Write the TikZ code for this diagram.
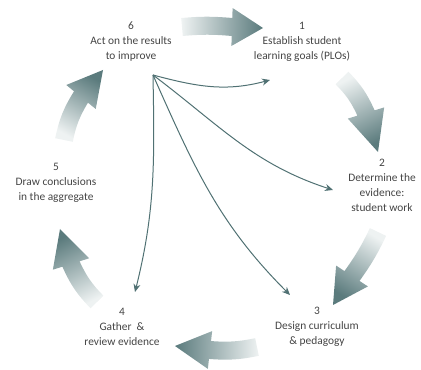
\documentclass[tikz,border=0pt]{standalone}
\usepackage{fontspec}
\setmainfont{Carlito}
\usetikzlibrary{calc,arrows.meta}

% curved block arrow: tail, head base, tip, bend, shading angle
\newcommand{\bigarrow}[5]{%
  \pgfmathsetmacro\tailL{90+#4}%
  \pgfmathsetmacro\tailR{-90+#4}%
  \shade[top color=cyc_dark, bottom color=cyc_light, shading angle=#5]
    ($(#1)!9pt!\tailL:(#2)$) to[bend left=#4] ($(#2)!9pt!90:(#3)$)
    -- ($(#2)!19pt!90:(#3)$) -- (#3) -- ($(#2)!19pt!-90:(#3)$)
    -- ($(#2)!9pt!-90:(#3)$) to[bend right=#4] ($(#1)!9pt!\tailR:(#2)$) -- cycle;
}

\begin{document}
\begin{tikzpicture}[x=1pt,y=1pt,
    stage/.style={align=center, text=stage_text, inner sep=1pt,
        font=\fontsize{11.4}{15}\selectfont},
    link/.style={draw=cyc_line, line width=1pt,
        -{Stealth[length=8pt,width=7pt]}}]
    \definecolor{cyc_dark}{HTML}{5b7b7d}
    \definecolor{cyc_light}{HTML}{eef2f2}
    \definecolor{cyc_line}{HTML}{507173}
    \definecolor{stage_text}{HTML}{444444}
    %\draw[help lines] (0,0) grid[step=10] (421,370);
    \useasboundingbox (0,0) rectangle (421,370);

    \node[stage] (s6) at (131,328) {6\\Act on the results\\to improve};
    \node[stage] (s1) at (302,328) {1\\Establish student\\learning goals (PLOs)};
    \node[stage] (s2) at (382,185) {2\\Determine the\\evidence:\\student work};
    \node[stage] (s3) at (317,43) {3\\Design curriculum\\\& pedagogy};
    \node[stage] (s4) at (122,43) {4\\Gather~ \&\\review evidence};
    \node[stage] (s5) at (56,187) {5\\Draw conclusions\\in the aggregate};

    % block arrows round the cycle
    \coordinate (a61t) at (182,343); \coordinate (a61h) at (232,343); \coordinate (a61p) at (263,342);
    \coordinate (a12t) at (342,292); \coordinate (a12h) at (366,257); \coordinate (a12p) at (378,218);
    \coordinate (a23t) at (378,138); \coordinate (a23h) at (352,94);  \coordinate (a23p) at (333,65);
    \coordinate (a34t) at (257,23);  \coordinate (a34h) at (210,20);  \coordinate (a34p) at (175,24);
    \coordinate (a45t) at (97,68);   \coordinate (a45h) at (71,106);  \coordinate (a45p) at (60,141);
    \coordinate (a56t) at (64,230);  \coordinate (a56h) at (81,273);  \coordinate (a56p) at (103,300);
    \bigarrow{a61t}{a61h}{a61p}{5}{-91}
    \bigarrow{a12t}{a12h}{a12p}{10}{-154}
    \bigarrow{a23t}{a23h}{a23p}{5}{148}
    \bigarrow{a34t}{a34h}{a34p}{8}{89}
    \bigarrow{a45t}{a45h}{a45p}{10}{27}
    \bigarrow{a56t}{a56h}{a56p}{10}{-29}

    % thin arrows from "act on the results"
    \coordinate (hub) at (153,295);
    \coordinate (e1) at (270,290);
    \coordinate (e2) at (333,180);
    \coordinate (e3) at (290,75);
    \coordinate (e4) at (135,78);
    \draw[link] (hub) to[out=-15,in=195] (e1);
    \draw[link] (hub) to[out=-37,in=162] (e2);
    \draw[link] (hub) to[out=-66,in=135] (e3);
    \draw[link] (hub) to[out=-89,in=76] (e4);
\end{tikzpicture}
\end{document}
